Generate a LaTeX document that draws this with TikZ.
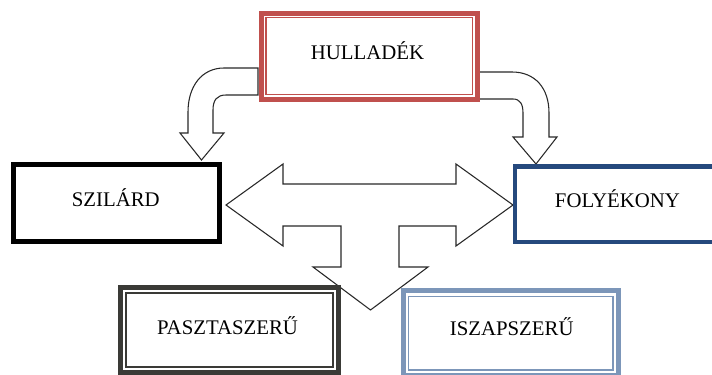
\documentclass[tikz,border=0pt]{standalone}
\usepackage{fontspec}
\setmainfont{Liberation Serif}
\definecolor{boxred}{RGB}{192,80,77}
\definecolor{boxnavy}{RGB}{37,73,125}
\definecolor{boxslate}{RGB}{124,150,185}
\definecolor{boxdark}{RGB}{58,58,54}
\definecolor{arrowline}{RGB}{40,40,40}
\begin{document}
\begin{tikzpicture}[x=0.75pt,y=-0.75pt,
  blockarrow/.style={draw=arrowline,fill=white,line width=0.8pt,line join=miter},
  thickframe/.style={line width=3.75pt},
  thinframe/.style={line width=1pt},
  label/.style={font=\fontsize{15.6pt}{18pt}\selectfont,inner sep=0pt,anchor=base}]
  \clip (0,0) rectangle (712,374);
  \fill[white] (0,0) rectangle (712,374);

  % curved block arrow to the left
  \draw[blockarrow] (258,68) -- (224,68)
    .. controls (202,68) and (188,86) .. (188,112) -- (188,133)
    -- (180,133) -- (201.5,160) -- (224,133) -- (213,133) -- (213,110)
    .. controls (213,100) and (217,95) .. (226,95) -- (258,95) -- cycle;

  % curved block arrow to the right
  \draw[blockarrow] (479,72) -- (512,72)
    .. controls (535,72) and (549,88) .. (549,113) -- (549,137)
    -- (557,137) -- (536,164) -- (513,137) -- (523,137) -- (523,113)
    .. controls (523,104) and (520,99) .. (513,99) -- (479,99) -- cycle;

  % three-way block arrow
  \draw[blockarrow] (226,205) -- (283,164) -- (283,184) -- (456,184)
    -- (456,164) -- (513,205) -- (456,246) -- (456,226) -- (399,226)
    -- (399,267) -- (428,267) -- (370.5,310) -- (313,267) -- (341,267)
    -- (341,226) -- (283,226) -- (283,246) -- cycle;

  % HULLADÉK frame (thick-thin)
  \draw[thickframe,boxred,fill=white] (261.8,13.2) rectangle (477.5,99.2);
  \draw[thinframe,boxred] (266,17.5) rectangle (472.5,94.5);
  \node[label] (hulladek) at (367.5,59.5) {HULLADÉK};

  % SZILÁRD frame
  \draw[line width=3.4pt,black,fill=white] (13.75,164.75) rectangle (219.75,241.25);
  \node[label] (szilard) at (115.8,206.7) {SZILÁRD};

  % FOLYÉKONY frame
  \draw[line width=3.4pt,boxnavy,fill=white] (514.95,166.25) rectangle (721,242);
  \node[label] (folyekony) at (617.5,207.3) {FOLYÉKONY};

  % PASZTASZERŰ frame (thick-thin)
  \draw[thickframe,boxdark,fill=white] (120.8,287.5) rectangle (338.2,372.5);
  \draw[line width=1.2pt,boxdark] (126.2,292.9) rectangle (332.8,367);
  \node[label] (paszta) at (227.5,334) {PASZTASZERŰ};

  % ISZAPSZERŰ frame (thick-thin)
  \draw[thickframe,boxslate,fill=white] (403.2,290.8) rectangle (618.2,375.5);
  \draw[line width=1.2pt,boxslate] (408.5,296.5) rectangle (612.9,370);
  \node[label] (iszap) at (511.7,335.7) {ISZAPSZERŰ};
\end{tikzpicture}
\end{document}
